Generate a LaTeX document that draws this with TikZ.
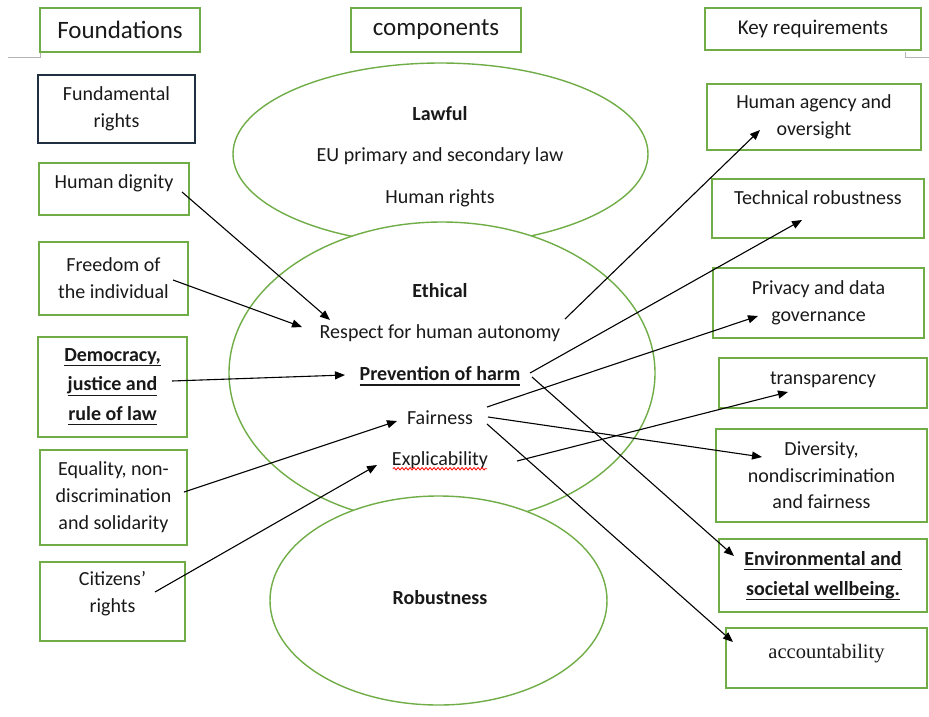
\documentclass[tikz,border=0pt]{standalone}
\usepackage{fontspec}
\setmainfont{Carlito}
\newfontfamily\accfont{Liberation Serif}
\newcommand{\myul}[1]{\setbox0\hbox{#1}\rlap{\rule[-5pt]{\wd0}{1.4pt}}\box0}
\usetikzlibrary{arrows.meta,shapes.geometric,decorations.pathmorphing}
\definecolor{boxgreen}{RGB}{112,173,71}
\definecolor{navy}{RGB}{32,48,64}
\definecolor{txt}{RGB}{25,25,25}
\definecolor{rulegray}{RGB}{180,180,180}
\begin{document}
\begin{tikzpicture}[x=1pt,y=-1pt,
  box/.style={draw=boxgreen,line width=1.2pt,rectangle,inner sep=2pt,align=center,text=txt,font=\fontsize{20}{27}\selectfont},
  head/.style={box,font=\fontsize{25}{30}\selectfont},
  oval/.style={draw=boxgreen,line width=1.4pt,ellipse,fill=white,inner sep=0pt},
  lbl/.style={text=txt,font=\fontsize{20}{27}\selectfont,inner sep=1pt},
  arr/.style={-{Triangle[length=10pt,width=8pt]},line width=1.1pt,black},
]
\useasboundingbox (0,0) rectangle (929,716);
% header rule
\draw[rulegray,line width=1pt] (8,57) -- (40,57) -- (40,52);
\draw[rulegray,line width=1pt] (905,52) -- (905,57) -- (929,57);
% headers
\node[head,minimum width=160,minimum height=44] (found) at (120,30) {Foundations};
\node[head,minimum width=170,minimum height=44] (comp) at (436,30) {components};
\node[box,font=\fontsize{21}{26}\selectfont,minimum width=216,minimum height=42] (keyreq) at (813,29) {Key requirements};
% left column
\node[box,draw=navy,minimum width=157,minimum height=68] (fund) at (116.5,109) {Fundamental\\rights};
\node[box,minimum width=150,minimum height=52,text depth=14pt] (dig) at (114,189) {Human dignity};
\node[box,minimum width=149,minimum height=73] (free) at (113.5,278.5) {Freedom of\\the individual};
\node[box,minimum width=149,minimum height=100,font=\bfseries\fontsize{20}{29.5}\selectfont] (demo) at (112.5,387) {\myul{Democracy,}\\\myul{justice and}\\\myul{rule of law}};
\node[box,minimum width=147,minimum height=95] (equal) at (113.5,497.5) {Equality, non-\\discrimination\\and solidarity};
\node[box,minimum width=145,minimum height=79,text depth=20pt] (citi) at (112.5,601.5) {Citizens’\\rights};
% right column
\node[box,minimum width=214,minimum height=66] (agency) at (814,117) {Human agency and\\oversight};
\node[box,minimum width=212,minimum height=59,text depth=22pt] (tech) at (818,208.5) {Technical robustness};
\node[box,minimum width=211,minimum height=70] (priv) at (818.5,303) {Privacy and data\\governance};
\node[box,minimum width=208,minimum height=50,text depth=10pt] (transp) at (823,383) {transparency};
\node[box,minimum width=211,minimum height=93,font=\fontsize{20}{26.5}\selectfont] (divers) at (821.5,475.5) {Diversity,\\nondiscrimination\\and fairness};
\node[box,minimum width=208,minimum height=73,font=\bfseries\fontsize{20}{30}\selectfont] (env) at (823,575.5) {\myul{Environmental and}\\\myul{societal wellbeing.}};
\node[box,minimum width=201,minimum height=60,font=\accfont\fontsize{20.5}{24}\selectfont,text depth=14pt] (acct) at (826.5,658) {accountability};
% ellipses
\node[oval,minimum width=415,minimum height=182] (lawful) at (440.5,154) {};
\node[oval,minimum width=426,minimum height=302] (ethical) at (442,373) {};
\node[oval,minimum width=337,minimum height=209] (robust) at (438.5,600.5) {};
% ellipse texts
\node[lbl,font=\bfseries\fontsize{20}{27}\selectfont] (lawT) at (440,114) {Lawful};
\node[lbl] (eu) at (440,156) {EU primary and secondary law};
\node[lbl] (hr) at (440,198) {Human rights};
\node[lbl,font=\bfseries\fontsize{20}{27}\selectfont] (ethT) at (440,291) {Ethical};
\node[lbl] (resp) at (440,333) {Respect for human autonomy};
\node[lbl,font=\bfseries\fontsize{20}{27}\selectfont] (harm) at (440,376) {\myul{Prevention of harm}};
\node[lbl] (fair) at (440,418) {Fairness};
\node[lbl] (expl) at (440,460) {Explicability};
\node[lbl,font=\bfseries\fontsize{20}{27}\selectfont] (robT) at (440,598) {Robustness};
\draw[red,line width=0.8pt,decorate,decoration={snake,amplitude=1.2pt,segment length=4pt}] ([shift={(2,-1)}]expl.south west) -- ([shift={(-2,-1)}]expl.south east);
% incoming arrows
\draw[arr] ([shift={(68,3)}]dig.center) -- ([shift={(-110,-13)}]resp.center);
\draw[arr] ([shift={(59.5,1.5)}]free.center) -- ([shift={(-138,-6)}]resp.center);
\draw[arr] ([shift={(59.5,-6)}]demo.center) -- ([shift={(-95,-1)}]harm.center);
\draw[arr] ([shift={(70.5,-5.5)}]equal.center) -- ([shift={(-43,3)}]fair.center);
\draw[arr] ([shift={(42.5,-9.5)}]citi.center) -- ([shift={(-63,5)}]expl.center);
% outgoing arrows
\draw[arr] ([shift={(125,-14)}]resp.center) -- ([shift={(-54,13)}]agency.center);
\draw[arr] ([shift={(90,-3)}]harm.center) -- ([shift={(-16,11.5)}]tech.center);
\draw[arr] ([shift={(47,-11)}]fair.center) -- ([shift={(-60.5,13)}]priv.center);
\draw[arr] ([shift={(48,-1)}]fair.center) -- ([shift={(-59.5,-18.5)}]divers.center);
\draw[arr] ([shift={(47,6)}]fair.center) -- ([shift={(-93.5,-16)}]acct.center);
\draw[arr] ([shift={(77,1)}]expl.center) -- ([shift={(-35,9)}]transp.center);
\draw[arr] ([shift={(92,1)}]harm.center) -- ([shift={(-89,-19.5)}]env.center);
\end{tikzpicture}
\end{document}
